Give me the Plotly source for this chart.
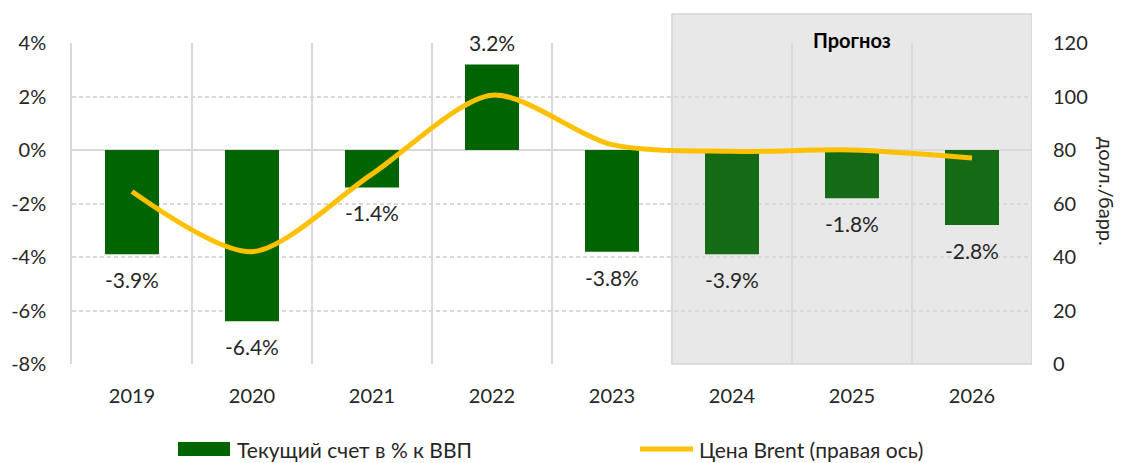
import plotly.graph_objects as go

years = ["2019", "2020", "2021", "2022", "2023", "2024", "2025", "2026"]
current_account = [-3.9, -6.4, -1.4, 3.2, -3.8, -3.9, -1.8, -2.8]
brent = [64.5, 42, 71, 100.5, 82, 79.5, 80, 77]
forecast_years = ["2024", "2025", "2026"]
yticks_left = [-8, -6, -4, -2, 0, 2, 4]
yticks_right = [0, 20, 40, 60, 80, 100, 120]
bar_name = "Текущий счет в % к ВВП"
line_name = "Цена Brent (правая ось)"

FONT = "Lato"
TXT = "#262626"
GRID = "#d9d9d9"
GREEN = "#006400"
GREEN_F = "#156a15"
GOLD = "#ffc000"

bar_colors = [GREEN_F if y in forecast_years else GREEN for y in years]

fig = go.Figure()
fig.add_trace(go.Bar(
    x=years, y=current_account, name=bar_name,
    marker=dict(color=bar_colors, line=dict(width=0)), width=0.45,
    yaxis="y", hoverinfo="skip", showlegend=False,
))
fig.add_trace(go.Scatter(
    x=years, y=brent, name=line_name, mode="lines",
    line=dict(color=GOLD, width=5, shape="spline", smoothing=0.8),
    yaxis="y2", showlegend=False,
))

for i, v in enumerate(current_account):
    fig.add_annotation(
        x=i, y=v, xref="x", yref="y", text=f"{v:.1f}%", showarrow=False,
        xanchor="center", yanchor="bottom" if v >= 0 else "top",
        yshift=7 if v >= 0 else -11,
        font=dict(family=FONT, size=21, color=TXT),
    )

# forecast shaded area
i0 = years.index(forecast_years[0]) - 0.5
i1 = years.index(forecast_years[-1]) + 0.5
fig.add_shape(type="rect", xref="x", yref="paper", x0=i0, x1=i1, y0=0, y1=1.09,
              fillcolor="#e8e8e8", line=dict(color="#d4d4d4", width=1.5), layer="below")
fig.add_annotation(x=(i0 + i1) / 2, xref="x", y=1.008, yref="paper", text="<b>Прогноз</b>",
                   xanchor="center", yanchor="middle", showarrow=False,
                   font=dict(family=FONT, size=20, color="#000000"))
fig.add_annotation(x=1.078, xref="paper", y=0.536, yref="paper", text="долл./барр.",
                   xanchor="center", yanchor="middle", textangle=90, showarrow=False,
                   font=dict(family=FONT, size=20, color=TXT))

# custom legend
fig.add_shape(type="rect", xref="paper", yref="paper", x0=0.1104, x1=0.1646,
              y0=-0.2866, y1=-0.243, fillcolor=GREEN, line=dict(width=0))
fig.add_annotation(x=0.1698, xref="paper", y=-0.2648, yref="paper", text=bar_name,
                   xanchor="left", yanchor="middle", showarrow=False,
                   font=dict(family=FONT, size=21, color=TXT))
fig.add_shape(type="line", xref="paper", yref="paper", x0=0.5917, x1=0.6469,
              y0=-0.2648, y1=-0.2648, line=dict(color=GOLD, width=5))
fig.add_annotation(x=0.651, xref="paper", y=-0.2648, yref="paper", text=line_name,
                   xanchor="left", yanchor="middle", showarrow=False,
                   font=dict(family=FONT, size=21, color=TXT))

# page body has an 8px margin, so the figure is offset by 8px
fig.update_layout(
    width=1118, height=455,
    margin=dict(l=64, r=94, t=35, b=99),
    paper_bgcolor="white", plot_bgcolor="rgba(0,0,0,0)",
    font=dict(family=FONT, size=20, color=TXT),
    showlegend=False,
    xaxis=dict(type="category", tickson="boundaries", showgrid=True, gridcolor=GRID,
               gridwidth=1.5, ticks="", showline=False, zeroline=False,
               range=[-0.5, 7.5], ticklabelstandoff=18, automargin=False),
    yaxis=dict(range=[-8, 4], tickvals=yticks_left,
               ticktext=[f"{v}%" for v in yticks_left], showgrid=True, gridcolor=GRID,
               gridwidth=1.5, griddash="4px,3px", zeroline=True, zerolinecolor=GRID,
               zerolinewidth=2, showline=True, linecolor=GRID, linewidth=1.5,
               ticks="", ticklabelstandoff=20, automargin=False),
    yaxis2=dict(range=[0, 120], tickvals=yticks_right, overlaying="y", side="right",
                showgrid=False, zeroline=False, showline=False, ticks="",
                ticklabelstandoff=20, automargin=False),
)
fig.write_html("out.html")
